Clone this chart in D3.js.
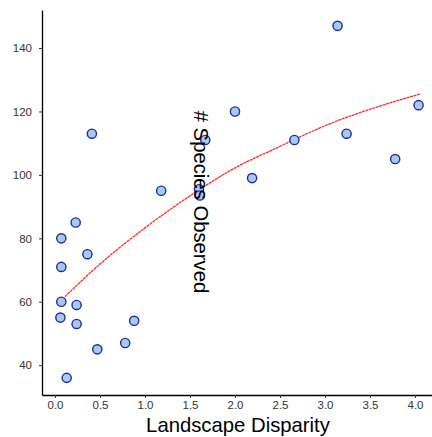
<!DOCTYPE html>
<html>
<head>
<meta charset="utf-8">
<script src="https://cdn.jsdelivr.net/npm/d3@7"></script>
<style>
  body { margin: 0; background: #fff; }
  svg { display: block; font-family: "Liberation Sans", Arial, sans-serif; }
</style>
</head>
<body>
<div id="chart"></div>
<script>
// observed points (landscape disparity, # species)
const disparity = [0.41, 1.18, 1.60, 1.61, 1.67, 3.14, 2.00, 4.04, 3.24, 2.66, 3.78, 2.19,
                   0.23, 0.07, 0.36, 0.07, 0.07, 0.24, 0.06, 0.24, 0.88, 0.78, 0.47, 0.13];
const species   = [113, 95, 95.5, 93.5, 111, 147, 120, 122, 113, 111, 105, 99,
                   85, 80, 75, 71, 60, 59, 55, 53, 54, 47, 45, 36];

// fitted curve
const fitX = [0.11, 0.5, 1.0, 1.5, 2.0, 2.5, 3.0, 3.5, 4.06];
const fitY = [61.6, 71.9, 83.3, 93.4, 102.2, 109.0, 115.5, 120.7, 125.5];

const xTicks = [0, 0.5, 1, 1.5, 2, 2.5, 3, 3.5, 4];
const yTicks = [40, 60, 80, 100, 120, 140];

const width = 432, height = 437;

const svg = d3.select("#chart").append("svg")
    .attr("width", width)
    .attr("height", height);

const x = d3.scaleLinear().domain([-0.1444, 4.189]).range([42, 432]);
const y = d3.scaleLinear().domain([30.6, 152]).range([395, 10]);

// axes
const xAxis = svg.append("g")
    .attr("transform", "translate(0,395)")
    .call(d3.axisBottom(x).tickValues(xTicks).tickFormat(d3.format(".1f")).tickSize(3).tickSizeOuter(0).tickPadding(3));
const yAxis = svg.append("g")
    .attr("transform", "translate(42,0)")
    .call(d3.axisLeft(y).tickValues(yTicks).tickSize(3).tickSizeOuter(0).tickPadding(7));

[xAxis, yAxis].forEach(g => {
    g.select(".domain").attr("stroke", "#000").attr("stroke-width", 1.3);
    g.selectAll(".tick line").attr("stroke", "#333");
    g.selectAll(".tick text").attr("fill", "#333").style("font-size", "11.5px")
        .style("font-family", "'Liberation Sans', Arial, sans-serif");
});

// fitted line
const line = d3.line()
    .x(d => x(d[0]))
    .y(d => y(d[1]))
    .curve(d3.curveMonotoneX);

svg.append("path")
    .datum(fitX.map((v, i) => [v, fitY[i]]))
    .attr("d", line)
    .attr("fill", "none")
    .attr("stroke", "#ff1010")
    .attr("stroke-width", 1.3)
    .attr("stroke-dasharray", "3,0.6")
    .attr("opacity", 0.9);

// points
svg.selectAll("circle.pt")
    .data(disparity.map((v, i) => [v, species[i]]))
    .enter()
    .append("circle")
    .attr("class", "pt")
    .attr("cx", d => x(d[0]))
    .attr("cy", d => y(d[1]))
    .attr("r", 4.6)
    .attr("fill", "#a8c9f1")
    .attr("stroke", "#1c2d9c")
    .attr("stroke-width", 1.4);

// axis titles
svg.append("text")
    .attr("x", 238)
    .attr("y", 432)
    .attr("text-anchor", "middle")
    .style("font-size", "20.3px")
    .attr("fill", "#000")
    .text("Landscape Disparity");

svg.append("text")
    .attr("transform", "translate(194,202) rotate(90)")
    .attr("text-anchor", "middle")
    .style("font-size", "20.3px")
    .attr("fill", "#000")
    .text("# Species Observed");
</script>
</body>
</html>
